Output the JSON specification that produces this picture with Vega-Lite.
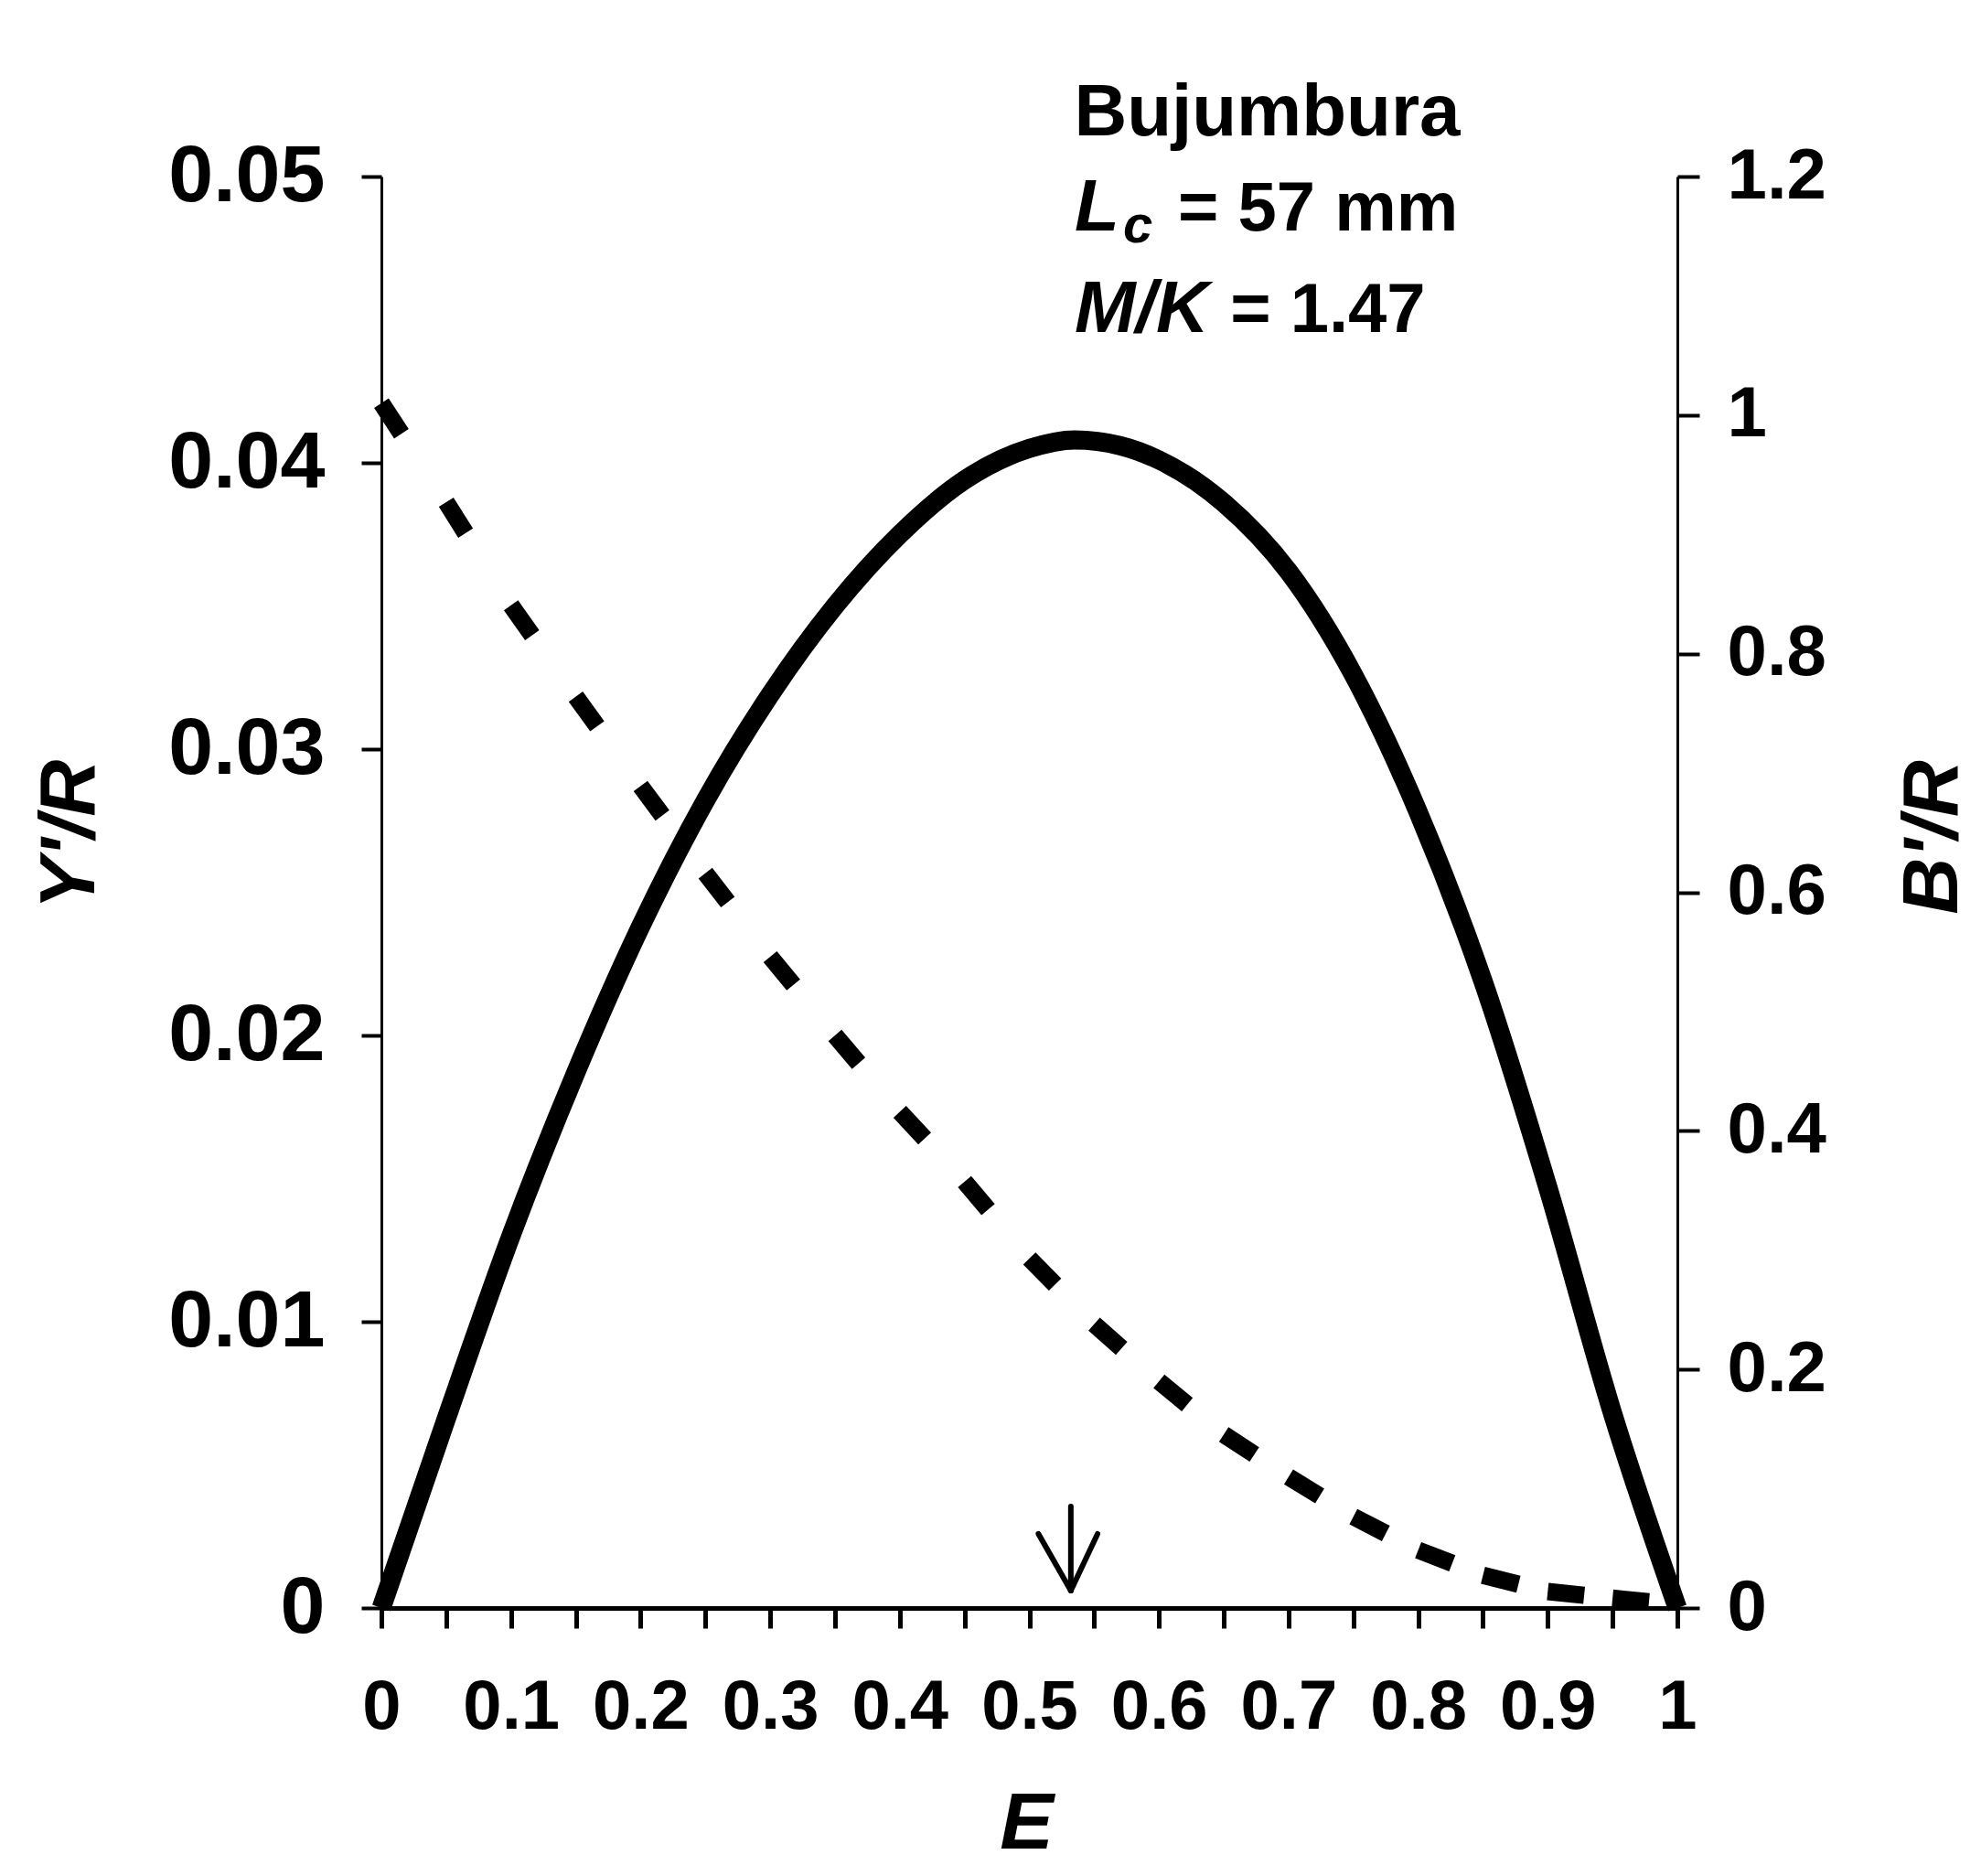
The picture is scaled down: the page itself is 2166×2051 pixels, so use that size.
{
  "$schema": "https://vega.github.io/schema/vega-lite/v6.json",
  "width": 1417,
  "height": 1565,
  "autosize": {"type": "none"},
  "padding": {"left": 417, "top": 193, "right": 332, "bottom": 293},
  "background": "white",
  "config": {
    "view": {"stroke": null},
    "axis": {"grid": false, "domainColor": "black", "tickColor": "black", "labelColor": "black", "titleColor": "black", "labelFont": "Liberation Sans", "titleFont": "Liberation Sans", "labelFlush": false, "labelOverlap": false, "labelBound": false}
  },
  "datasets": {
    "solid": [
      {"E": 0, "Y": 0},
      {"E": 0.05, "Y": 0.0066},
      {"E": 0.1, "Y": 0.013},
      {"E": 0.15, "Y": 0.0187},
      {"E": 0.2, "Y": 0.0238},
      {"E": 0.25, "Y": 0.0282},
      {"E": 0.3, "Y": 0.0319},
      {"E": 0.35, "Y": 0.035},
      {"E": 0.4, "Y": 0.0375},
      {"E": 0.45, "Y": 0.0394},
      {"E": 0.5, "Y": 0.0405},
      {"E": 0.535, "Y": 0.0408},
      {"E": 0.57, "Y": 0.0406},
      {"E": 0.6, "Y": 0.0401},
      {"E": 0.65, "Y": 0.0386},
      {"E": 0.7, "Y": 0.0362},
      {"E": 0.75, "Y": 0.0326},
      {"E": 0.8, "Y": 0.0278},
      {"E": 0.85, "Y": 0.0219},
      {"E": 0.9, "Y": 0.0147},
      {"E": 0.95, "Y": 0.0068},
      {"E": 1, "Y": 0}
    ],
    "dashed": [
      {"seg": 0, "E": 0, "B": 1.01}, {"seg": 0, "E": 0.05, "B": 0.927},
      {"seg": 1, "E": 0.05, "B": 0.927}, {"seg": 1, "E": 0.1, "B": 0.8405},
      {"seg": 2, "E": 0.1, "B": 0.8405}, {"seg": 2, "E": 0.15, "B": 0.764},
      {"seg": 3, "E": 0.15, "B": 0.764}, {"seg": 3, "E": 0.2, "B": 0.689},
      {"seg": 4, "E": 0.2, "B": 0.689}, {"seg": 4, "E": 0.25, "B": 0.616},
      {"seg": 5, "E": 0.25, "B": 0.616}, {"seg": 5, "E": 0.3, "B": 0.546},
      {"seg": 6, "E": 0.3, "B": 0.546}, {"seg": 6, "E": 0.35, "B": 0.48},
      {"seg": 7, "E": 0.35, "B": 0.48}, {"seg": 7, "E": 0.4, "B": 0.416},
      {"seg": 8, "E": 0.4, "B": 0.416}, {"seg": 8, "E": 0.45, "B": 0.3575},
      {"seg": 9, "E": 0.45, "B": 0.3575}, {"seg": 9, "E": 0.5, "B": 0.293},
      {"seg": 10, "E": 0.5, "B": 0.293}, {"seg": 10, "E": 0.55, "B": 0.238},
      {"seg": 11, "E": 0.55, "B": 0.238}, {"seg": 11, "E": 0.6, "B": 0.19},
      {"seg": 12, "E": 0.6, "B": 0.19}, {"seg": 12, "E": 0.65, "B": 0.1455},
      {"seg": 13, "E": 0.65, "B": 0.1455}, {"seg": 13, "E": 0.7, "B": 0.11},
      {"seg": 14, "E": 0.7, "B": 0.11}, {"seg": 14, "E": 0.75, "B": 0.0766},
      {"seg": 15, "E": 0.75, "B": 0.0766}, {"seg": 15, "E": 0.8, "B": 0.0485},
      {"seg": 16, "E": 0.8, "B": 0.0485}, {"seg": 16, "E": 0.85, "B": 0.0274},
      {"seg": 17, "E": 0.85, "B": 0.0274}, {"seg": 17, "E": 0.9, "B": 0.0138},
      {"seg": 18, "E": 0.9, "B": 0.0138}, {"seg": 18, "E": 0.95, "B": 0.0082},
      {"seg": 19, "E": 0.95, "B": 0.0082}, {"seg": 19, "E": 1, "B": 0.003}
    ],
    "arrow": [
      {"part": "shaft", "k": 0, "E": 0.532, "Y": 0.00355},
      {"part": "shaft", "k": 1, "E": 0.532, "Y": 0.00061},
      {"part": "left", "k": 0, "E": 0.507, "Y": 0.00259},
      {"part": "left", "k": 1, "E": 0.532, "Y": 0.00061},
      {"part": "right", "k": 0, "E": 0.5526, "Y": 0.00259},
      {"part": "right", "k": 1, "E": 0.532, "Y": 0.00061}
    ],
    "noteTitle": [{"E": 0.5345, "Y": 0.05144, "t": "Bujumbura"}],
    "notePlain": [
      {"E": 0.6147, "Y": 0.04811, "t": "= 57 mm"},
      {"E": 0.655, "Y": 0.04457, "t": "= 1.47"}
    ],
    "noteItalic": [
      {"E": 0.535, "Y": 0.04811, "t": "L"},
      {"E": 0.535, "Y": 0.04457, "t": "M/K"}
    ],
    "noteSub": [{"E": 0.5723, "Y": 0.0477, "t": "c"}]
  },
  "encoding": {
    "x": {
      "field": "E",
      "type": "quantitative",
      "scale": {"domain": [0, 1], "nice": false, "zero": false},
      "axis": {
        "values": [0, 0.05, 0.1, 0.15, 0.2, 0.25, 0.3, 0.35, 0.4, 0.45, 0.5, 0.55, 0.6, 0.65, 0.7, 0.75, 0.8, 0.85, 0.9, 0.95, 1],
        "labelExpr": "round(datum.value * 20) % 2 == 1 ? '' : format(datum.value, '.1~f')",
        "labelFontSize": 76,
        "labelFontWeight": "bold",
        "labelPadding": 49,
        "tickSize": 22,
        "tickWidth": 5,
        "domainWidth": 5,
        "title": "E",
        "titleFontSize": 88,
        "titleFontStyle": "italic",
        "titleFontWeight": "bold",
        "titleX": 705,
        "titleY": 262,
        "titleBaseline": "alphabetic",
        "titleAlign": "center"
      }
    }
  },
  "layer": [
    {
      "encoding": {
        "y": {
          "field": "Y",
          "type": "quantitative",
          "scale": {"domain": [0, 0.05], "nice": false, "zero": false},
          "axis": {
            "orient": "left",
            "values": [0, 0.01, 0.02, 0.03, 0.04, 0.05],
            "labelExpr": "format(datum.value, '.2~f')",
            "labelFontSize": 88,
            "labelFontWeight": "bold",
            "labelPadding": 40,
            "tickSize": 22,
            "tickWidth": 4,
            "domainWidth": 3,
            "title": "Y'/R",
            "titleFontSize": 86,
            "titleFontStyle": "italic",
            "titleFontWeight": "bold",
            "titleAngle": 270,
            "titleX": -341,
            "titleY": 719,
            "titleBaseline": "middle",
            "titleAlign": "center"
          }
        }
      },
      "layer": [
        {
          "data": {"name": "solid"},
          "mark": {"type": "line", "color": "black", "strokeWidth": 21, "interpolate": "monotone", "strokeCap": "butt"}
        },
        {
          "data": {"name": "arrow"},
          "mark": {"type": "line", "color": "black", "strokeWidth": 6, "strokeCap": "round"},
          "encoding": {"detail": {"field": "part", "type": "nominal"}, "order": {"field": "k", "type": "quantitative"}}
        },
        {
          "data": {"name": "noteTitle"},
          "mark": {"type": "text", "align": "left", "baseline": "alphabetic", "font": "Liberation Sans", "fontSize": 80, "fontWeight": "bold", "color": "black"},
          "encoding": {"text": {"field": "t", "type": "nominal"}}
        },
        {
          "data": {"name": "notePlain"},
          "mark": {"type": "text", "align": "left", "baseline": "alphabetic", "font": "Liberation Sans", "fontSize": 76, "fontWeight": "bold", "color": "black"},
          "encoding": {"text": {"field": "t", "type": "nominal"}}
        },
        {
          "data": {"name": "noteItalic"},
          "mark": {"type": "text", "align": "left", "baseline": "alphabetic", "font": "Liberation Sans", "fontSize": 80, "fontStyle": "italic", "fontWeight": "bold", "color": "black"},
          "encoding": {"text": {"field": "t", "type": "nominal"}}
        },
        {
          "data": {"name": "noteSub"},
          "mark": {"type": "text", "align": "left", "baseline": "alphabetic", "font": "Liberation Sans", "fontSize": 58, "fontStyle": "italic", "fontWeight": "bold", "color": "black"},
          "encoding": {"text": {"field": "t", "type": "nominal"}}
        }
      ]
    },
    {
      "data": {"name": "dashed"},
      "mark": {"type": "line", "color": "black", "strokeWidth": 19, "strokeDash": [40, 400], "strokeCap": "butt"},
      "encoding": {
        "detail": {"field": "seg", "type": "nominal"},
        "y": {
          "field": "B",
          "type": "quantitative",
          "scale": {"domain": [0, 1.2], "nice": false, "zero": false},
          "axis": {
            "orient": "right",
            "values": [0, 0.2, 0.4, 0.6, 0.8, 1, 1.2],
            "labelExpr": "format(datum.value, '.1~f')",
            "labelFontSize": 78,
            "labelFontWeight": "bold",
            "labelPadding": 30,
            "tickSize": 24,
            "tickWidth": 4,
            "domainWidth": 3,
            "title": "B'/R",
            "titleFontSize": 86,
            "titleFontStyle": "italic",
            "titleFontWeight": "bold",
            "titleAngle": 270,
            "titleX": 279,
            "titleY": 722,
            "titleBaseline": "middle",
            "titleAlign": "center"
          }
        }
      }
    }
  ],
  "resolve": {"scale": {"y": "independent"}}
}
